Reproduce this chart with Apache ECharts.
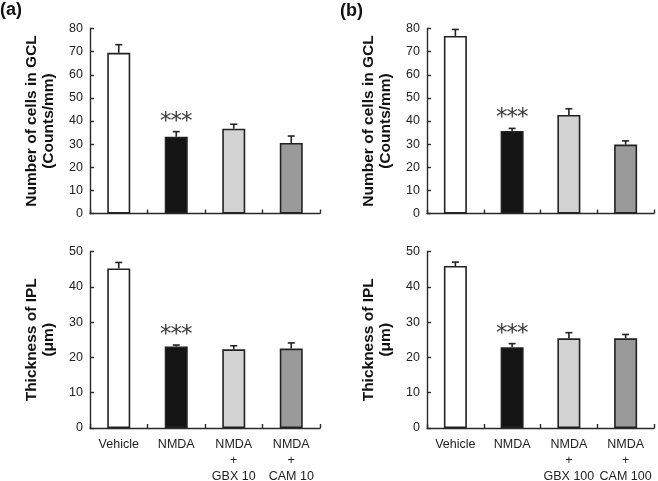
<!DOCTYPE html>
<html><head><meta charset="utf-8">
<script src="https://cdn.jsdelivr.net/npm/echarts@6/dist/echarts.min.js"></script>
<style>html,body{margin:0;padding:0;background:#fff}#c{width:658px;height:481px}</style>
</head><body><div id="c"></div>
<script>
// ---- data ----
const categoriesA = ['Vehicle', 'NMDA', 'NMDA\n+\nGBX 10', 'NMDA\n+\nCAM 10'];
const categoriesB = ['Vehicle', 'NMDA', 'NMDA\n+\nGBX 100', 'NMDA\n+\nCAM 100'];
const gclA = [69.5, 33.2, 36.7, 30.5];
const gclAErr = [3.5, 2.2, 1.9, 3.0];
const gclB = [76.8, 35.7, 42.6, 29.8];
const gclBErr = [2.8, 1.1, 2.7, 1.6];
const iplA = [45.2, 23.1, 22.3, 22.5];
const iplAErr = [1.7, 0.4, 1.0, 1.6];
const iplB = [45.9, 22.9, 25.4, 25.4];
const iplBErr = [1.1, 1.0, 1.6, 1.1];
const stars = ['', '***', '', ''];
const gclTicks = [0, 80, 10];
const iplTicks = [0, 50, 10];
const gclTitle = 'Number of cells in GCL\n(Counts/mm)';
const iplTitle = 'Thickness of IPL\n(\u03bcm)';

// ---- styles ----
const FONT = 'Liberation Sans, Arial, sans-serif';
const barColors = ['#ffffff', '#141414', '#d2d2d2', '#9a9a9a'];
const axisColor = '#2a2a2a';

const grids = [
  {left: 90, top: 28.5, width: 230, height: 185, outerBoundsMode: 'none', containLabel: false},
  {left: 427, top: 28.5, width: 227, height: 185, outerBoundsMode: 'none', containLabel: false},
  {left: 90, top: 251.5, width: 230, height: 176.5, outerBoundsMode: 'none', containLabel: false},
  {left: 427, top: 251.5, width: 227, height: 176.5, outerBoundsMode: 'none', containLabel: false}
];
const panels = [
  {cats: categoriesA, vals: gclA, errs: gclAErr, ticks: gclTicks, title: gclTitle, showX: false},
  {cats: categoriesB, vals: gclB, errs: gclBErr, ticks: gclTicks, title: gclTitle, showX: false},
  {cats: categoriesA, vals: iplA, errs: iplAErr, ticks: iplTicks, title: iplTitle, showX: true},
  {cats: categoriesB, vals: iplB, errs: iplBErr, ticks: iplTicks, title: iplTitle, showX: true}
];

const xAxis = [], yAxis = [], series = [];
panels.forEach((p, gi) => {
  xAxis.push({
    type: 'category', gridIndex: gi, data: p.cats,
    axisLine: {lineStyle: {color: axisColor, width: 1.4}},
    axisTick: {show: true, inside: true, length: 4, lineStyle: {color: axisColor, width: 1.4}},
    axisLabel: {show: p.showX, interval: 0, margin: 9, color: '#222', fontSize: 12.5, lineHeight: 16, fontFamily: FONT}
  });
  yAxis.push({
    type: 'value', gridIndex: gi, min: p.ticks[0], max: p.ticks[1], interval: p.ticks[2],
    name: p.title, nameLocation: 'middle', nameGap: 33, nameRotate: 90,
    nameTextStyle: {fontWeight: 'bold', fontSize: 15.5, lineHeight: 17, color: '#111', fontFamily: FONT},
    axisLine: {show: true, lineStyle: {color: axisColor, width: 1.4}},
    axisTick: {show: true, inside: true, length: 4, lineStyle: {color: axisColor, width: 1.4}},
    splitLine: {show: false},
    axisLabel: {margin: 7, color: '#222', fontSize: 12.5, fontFamily: FONT}
  });
  series.push({
    type: 'bar', xAxisIndex: gi, yAxisIndex: gi, barWidth: 23,
    data: p.vals.map((v, i) => ({value: v, itemStyle: {color: barColors[i]}})),
    itemStyle: {borderColor: '#222', borderWidth: 1.6},
    silent: true, animation: false
  });
  series.push({
    type: 'custom', xAxisIndex: gi, yAxisIndex: gi, z: 5,
    data: p.vals.map((v, i) => [i, v, p.errs[i]]),
    renderItem: function (params, api) {
      const i = api.value(0), v = api.value(1), e = api.value(2);
      const a = api.coord([i, v]);
      const b = api.coord([i, v + e]);
      const st = {stroke: '#222', lineWidth: 1.6};
      const ch = [
        {type: 'line', shape: {x1: a[0], y1: a[1], x2: b[0], y2: b[1]}, style: st},
        {type: 'line', shape: {x1: b[0] - 3.5, y1: b[1], x2: b[0] + 3.5, y2: b[1]}, style: st}
      ];
      const s = stars[i];
      for (let k = 0; k < s.length; k++) {
        ch.push({type: 'text', x: b[0] + (k - (s.length - 1) / 2) * 10.5, y: b[1] - 10,
          style: {text: s[k], align: 'center', verticalAlign: 'middle',
            font: '23px DejaVu Sans', fill: '#3a3a3a'}});
      }
      return {type: 'group', children: ch};
    },
    silent: true, animation: false
  });
});

const chart = echarts.init(document.getElementById('c'), null, {renderer: 'canvas'});
chart.setOption({
  animation: false,
  backgroundColor: '#fff',
  grid: grids,
  xAxis: xAxis,
  yAxis: yAxis,
  series: series,
  graphic: [
    {type: 'text', left: 0, top: 1, style: {text: '(a)', font: 'bold 18px ' + FONT, fill: '#111'}},
    {type: 'text', left: 340, top: 2, style: {text: '(b)', font: 'bold 18px ' + FONT, fill: '#111'}}
  ]
});
</script>
</body></html>
